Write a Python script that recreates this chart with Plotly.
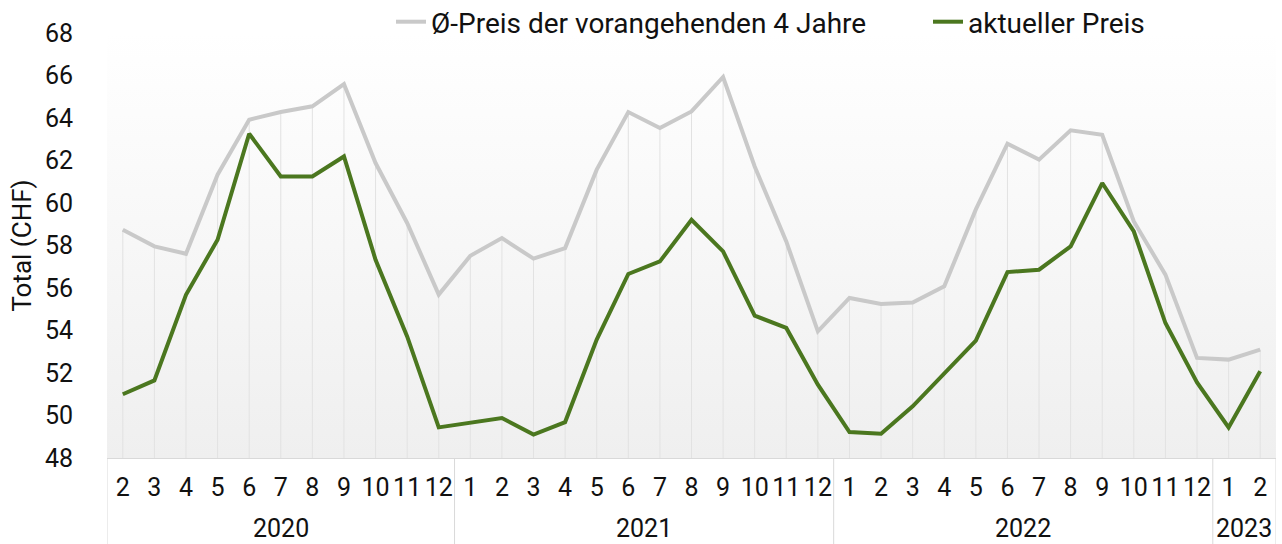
import base64

import plotly.graph_objects as go

YEARS = ["2020"] * 11 + ["2021"] * 12 + ["2022"] * 12 + ["2023"] * 2
MONTHS = [
    "2", "3", "4", "5", "6", "7", "8", "9", "10", "11", "12",
    "1", "2", "3", "4", "5", "6", "7", "8", "9", "10", "11", "12",
    "1", "2", "3", "4", "5", "6", "7", "8", "9", "10", "11", "12",
    "1", "2",
]

AVG_4Y = [
    58.74, 57.96, 57.61, 61.33, 63.92, 64.28, 64.55, 65.6, 61.88, 59.06, 55.69,
    57.52, 58.35, 57.38, 57.88, 61.57, 64.28, 63.53, 64.31, 65.93, 61.72, 58.19, 53.96,
    55.53, 55.25, 55.32, 56.08, 59.7, 62.79, 62.04, 63.42, 63.21, 59.13, 56.63, 52.71,
    52.63, 53.1,
]
CURRENT = [
    51.0, 51.65, 55.68, 58.27, 63.26, 61.25, 61.25, 62.19, 57.33, 53.72, 49.44,
    49.65, 49.88, 49.1, 49.69, 53.57, 56.66, 57.25, 59.21, 57.72, 54.7, 54.12, 51.45,
    49.22, 49.14, 50.43, 52.0, 53.52, 56.75, 56.86, 57.96, 60.94, 58.66, 54.35, 51.56,
    49.44, 52.08,
]

Y_MIN, Y_MAX = 48, 68
FONT = "Roboto"
AXIS_GREY = "#d9d9d9"

W, H = 1282, 544
M_L, M_R, M_T, M_B = 107, 6, 33, 86
PLOT_H = H - M_T - M_B

x = list(range(len(MONTHS)))

# background gradient for the plot area (white on top, light grey at the bottom)
svg = (
    '<svg xmlns="http://www.w3.org/2000/svg" width="100" height="100" preserveAspectRatio="none">'
    '<defs><linearGradient id="g" x1="0" y1="0" x2="0" y2="1">'
    '<stop offset="0" stop-color="#ffffff"/><stop offset="1" stop-color="#efefef"/>'
    '</linearGradient></defs><rect width="100" height="100" fill="url(#g)"/></svg>'
)
bg = "data:image/svg+xml;base64," + base64.b64encode(svg.encode()).decode()

fig = go.Figure()

# drop lines from the average series down to the axis
fig.add_trace(go.Scatter(
    x=x, y=AVG_4Y, mode="markers", marker=dict(size=1, opacity=0),
    error_y=dict(type="data", symmetric=False, array=[0] * len(AVG_4Y),
                 arrayminus=[v - Y_MIN for v in AVG_4Y],
                 color="#e2e2e2", thickness=1, width=0),
    showlegend=False, hoverinfo="skip",
))
fig.add_trace(go.Scatter(
    x=x, y=AVG_4Y, mode="lines", name="Ø-Preis der vorangehenden 4 Jahre",
    line=dict(color="#c9c9c9", width=4),
))
fig.add_trace(go.Scatter(
    x=x, y=CURRENT, mode="lines", name="aktueller Preis",
    line=dict(color="#4b771f", width=4),
))

# year groups: labels below the month ticks and divider lines between them
groups = []
for i, yr in enumerate(YEARS):
    if not groups or groups[-1][0] != yr:
        groups.append([yr, i, i])
    else:
        groups[-1][2] = i

bottom = -(M_B / PLOT_H)
for yr, i0, i1 in groups:
    fig.add_annotation(
        x=(i0 + i1) / 2, y=-70 / PLOT_H, xref="x", yref="paper",
        text=yr, showarrow=False, font=dict(size=25), yanchor="middle",
    )
    fig.add_shape(type="line", xref="x", yref="paper", x0=i0 - 0.5, x1=i0 - 0.5,
                  y0=0, y1=bottom, line=dict(color=AXIS_GREY, width=1))
fig.add_shape(type="line", xref="x", yref="paper", x0=len(x) - 0.5, x1=len(x) - 0.5,
              y0=0, y1=bottom, line=dict(color=AXIS_GREY, width=1))

fig.update_layout(
    width=W, height=H,
    margin=dict(l=M_L, r=M_R, t=M_T, b=M_B, autoexpand=False),
    paper_bgcolor="white", plot_bgcolor="rgba(0,0,0,0)",
    font=dict(family=FONT, size=25, color="#111111"),
    showlegend=True,
    legend=dict(orientation="h", xref="container", yref="container",
                x=391 / W, xanchor="left", y=1 - 22 / H, yanchor="middle",
                font=dict(size=28), bgcolor="rgba(0,0,0,0)",
                entrywidth=492, entrywidthmode="pixels", traceorder="normal"),
    images=[dict(source=bg, xref="paper", yref="paper", x=0, y=1, sizex=1, sizey=1,
                 sizing="stretch", layer="below")],
)
fig.update_xaxes(
    range=[-0.5, len(x) - 0.5], tickmode="array", tickvals=x, ticktext=MONTHS,
    tickangle=0, showgrid=False, zeroline=False, automargin=False,
    showline=True, linecolor=AXIS_GREY, linewidth=1,
    ticks="", tickfont=dict(size=25), ticklabelstandoff=7,
)
fig.update_yaxes(
    range=[Y_MIN, Y_MAX], dtick=2, showgrid=False, zeroline=False, showline=False,
    automargin=False, ticklabelstandoff=33, tickfont=dict(size=25),
    title=dict(text="Total (CHF)", font=dict(size=26), standoff=5),
)

# drop the browser's default page margin so the figure sits at the window origin
fig.write_html("out.html", config={"displayModeBar": False},
               post_script="document.body.style.margin = '0';")
